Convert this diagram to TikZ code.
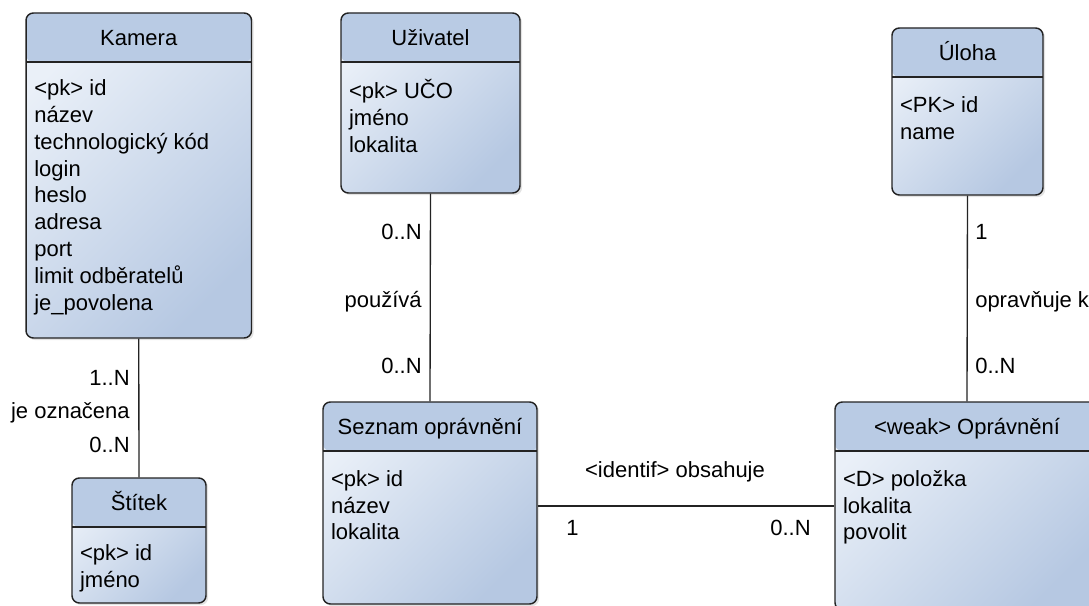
\documentclass[tikz,border=0pt]{standalone}
\usepackage{fontspec}
\setmainfont{Liberation Sans}
\usepackage{tikz}
\usetikzlibrary{calc,positioning,shadows}
\definecolor{headblue}{RGB}{185,203,228}
\definecolor{bodylight}{RGB}{234,240,248}
\definecolor{bodydark}{RGB}{182,200,226}
\definecolor{edge}{RGB}{35,35,35}
\tikzset{
  every node/.style={font=\fontsize{16.5}{20.1}\selectfont},
  entity/.style={draw=edge,line width=1.1pt,rounded corners=5.5pt,inner sep=0pt,
    top color=bodylight,bottom color=bodydark,shading angle=45,
    drop shadow={shadow xshift=1.6pt,shadow yshift=-1.6pt,opacity=.22},
    path picture={
      \fill[headblue] (path picture bounding box.north west) rectangle
        ([yshift=-36.75pt]path picture bounding box.north east);
      \draw[line width=1.1pt,edge] ([yshift=-36.75pt]path picture bounding box.north west)
        -- ([yshift=-36.75pt]path picture bounding box.north east);}},
  enttitle/.style={anchor=base,inner sep=0pt},
  attrs/.style={anchor=north west,align=left,inner sep=0pt,
    execute at begin node=\rule{0pt}{16pt}},
  card/.style={inner sep=0pt},
  rel/.style={line width=1pt,edge}
}

\begin{document}
\begin{tikzpicture}[x=0.75pt,y=-0.75pt]
  \useasboundingbox (0,0) rectangle (1089,606);

  % entities
  \node[entity,minimum width=169.1pt,minimum height=243.75pt] (kamera) at (138.75,175.5) {};
  \node[enttitle] (kamera-t) at ([yshift=-25.1pt]kamera.north) {Kamera};
  \node[attrs] (kamera-a) at ([xshift=6.6pt,yshift=-50.4pt]kamera.north west)
    {<pk> id\\název\\technologický kód\\login\\heslo\\adresa\\port\\limit odběratelů\\je\_povolena};

  \node[entity,minimum width=134.25pt,minimum height=135pt] (uzivatel) at (430.5,103) {};
  \node[enttitle] (uzivatel-t) at ([yshift=-25.1pt]uzivatel.north) {Uživatel};
  \node[attrs] (uzivatel-a) at ([xshift=6.4pt,yshift=-50.4pt]uzivatel.north west)
    {<pk> UČO\\jméno\\lokalita};

  \node[entity,minimum width=113.25pt,minimum height=125.25pt] (uloha) at (967.5,111.5) {};
  \node[enttitle] (uloha-t) at ([yshift=-25.1pt]uloha.north) {Úloha};
  \node[attrs] (uloha-a) at ([xshift=6.4pt,yshift=-51.6pt]uloha.north west)
    {<PK> id\\name};

  \node[entity,minimum width=100.5pt,minimum height=93.75pt] (stitek) at (139,540.5) {};
  \node[enttitle] (stitek-t) at ([yshift=-25.1pt]stitek.north) {Štítek};
  \node[attrs] (stitek-a) at ([xshift=6.4pt,yshift=-50.4pt]stitek.north west)
    {<pk> id\\jméno};

  \node[entity,minimum width=160.5pt,minimum height=151.5pt] (seznam) at (430,503) {};
  \node[enttitle] (seznam-t) at ([yshift=-25.1pt]seznam.north) {Seznam oprávnění};
  \node[attrs] (seznam-a) at ([xshift=6.4pt,yshift=-51.6pt]seznam.north west)
    {<pk> id\\název\\lokalita};

  \node[entity,minimum width=198pt,minimum height=156pt] (opravneni) at (967,506) {};
  \node[enttitle] (opravneni-t) at ([yshift=-25.1pt]opravneni.north) {<weak> Oprávnění};
  \node[attrs] (opravneni-a) at ([xshift=6.4pt,yshift=-51.6pt]opravneni.north west)
    {<D> položka\\lokalita\\povolit};

  % relationships
  \draw[rel] (kamera.south) -- (stitek.north);
  \node[card,anchor=base east] (k-1) at (130,385) {1..N};
  \node[card,anchor=base east] (k-rel) at (130,418) {je označena};
  \node[card,anchor=base east] (k-2) at (130,452) {0..N};

  \draw[rel] (uzivatel.south) -- (seznam.north);
  \node[card,anchor=base east] (u-1) at (422,239) {0..N};
  \node[card,anchor=base east] (u-rel) at (422,307) {používá};
  \node[card,anchor=base east] (u-2) at (422,373) {0..N};

  \draw[rel] (uloha.south) -- (opravneni.north);
  \node[card,anchor=base west] (o-1) at (975,239) {1};
  \node[card,anchor=base west] (o-rel) at (975,307) {opravňuje k};
  \node[card,anchor=base west] (o-2) at (975,373) {0..N};

  \draw[rel] (seznam.east |- opravneni.west) -- (opravneni.west);
  \node[card,anchor=base] (s-rel) at (675,477) {<identif> obsahuje};
  \node[card,anchor=base west] (s-1) at (566,535) {1};
  \node[card,anchor=base east] (s-2) at (811,535) {0..N};
\end{tikzpicture}
\end{document}
